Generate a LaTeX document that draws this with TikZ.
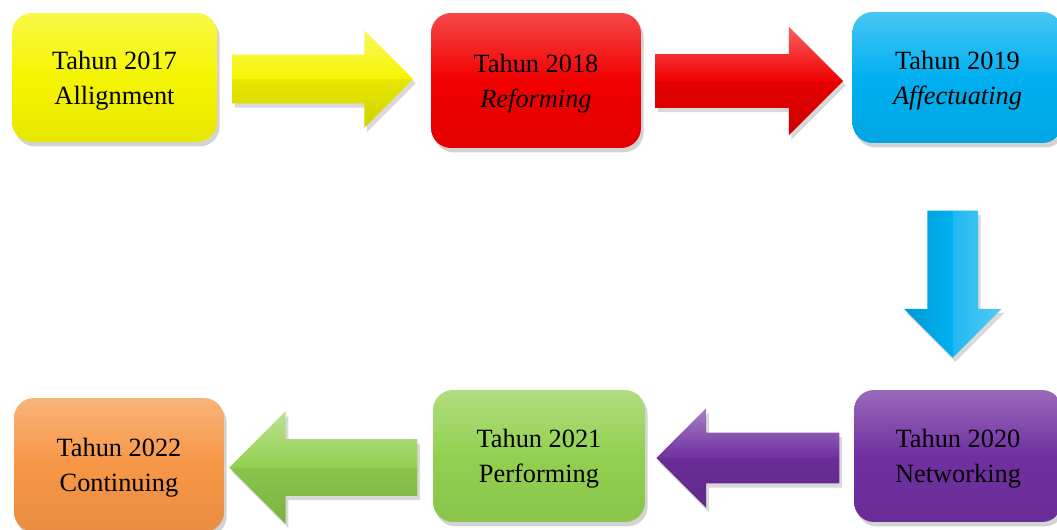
\documentclass[tikz,border=0pt]{standalone}
\usepackage{fontspec}
\setmainfont{Liberation Serif}
\usetikzlibrary{shapes.arrows,shadows,calc}
\definecolor{cyel}{HTML}{F5F500}
\definecolor{cred}{HTML}{F20000}
\definecolor{cblue}{HTML}{00B0F0}
\definecolor{cpurp}{HTML}{7030A0}
\definecolor{cgreen}{HTML}{92D050}
\definecolor{corange}{HTML}{F79646}
\newcommand\twolines[2]{\raisebox{-1.3pt}[\height][\depth]{\begin{tabular}{@{}c@{}}#1\\#2\end{tabular}}}
\tikzset{
  yearbox/.style={rounded corners=0.4cm, inner sep=0pt, align=center,
    font=\fontsize{15}{20}\selectfont,
    top color=#1!72!white, bottom color=#1!94!black, middle color=#1,
    drop shadow={opacity=0.35, shadow xshift=1.5pt, shadow yshift=-2.5pt}},
  barrow/.style={single arrow, draw=none,
    drop shadow={opacity=0.3, shadow xshift=1.5pt, shadow yshift=-2.5pt}},
  hbevel/.style={top color=#1!62!white, bottom color=#1!90!black, middle color=#1,
    path picture={\fill[black,opacity=0.05] (path picture bounding box.west) rectangle (path picture bounding box.south east);}},
  vbevel/.style={left color=#1!88!black, right color=#1!75!white, middle color=#1,
    path picture={\fill[white,opacity=0.12] (path picture bounding box.north) rectangle (path picture bounding box.south east);}}
}
\begin{document}
\begin{tikzpicture}[x=0.02cm,y=-0.02cm]
\useasboundingbox (0,0) rectangle (1057,530);
\node[yearbox=cyel, minimum width=4.1cm, minimum height=2.58cm] (b17) at (114.5,77.5) {\twolines{Tahun 2017}{Allignment}};
\node[yearbox=cred, minimum width=4.2cm, minimum height=2.7cm] (b18) at (536,80.5) {\twolines{Tahun 2018}{\textit{Reforming}}};
\node[yearbox=cblue, minimum width=4.2cm, minimum height=2.62cm] (b19) at (957.5,77.5) {\twolines{Tahun 2019}{\textit{Affectuating}}};
\node[yearbox=cpurp, minimum width=4.16cm, minimum height=2.64cm] (b20) at (958,456) {\twolines{Tahun 2020}{Networking}};
\node[yearbox=cgreen, minimum width=4.24cm, minimum height=2.64cm] (b21) at (539,456) {\twolines{Tahun 2021}{Performing}};
\node[yearbox=corange, minimum width=4.2cm, minimum height=2.68cm] (b22) at (119,465) {\twolines{Tahun 2022}{Continuing}};

\node[barrow, hbevel=cyel, inner sep=0.48cm, minimum height=3.62cm, minimum width=1.94cm, single arrow head extend=0.49cm]
  (a1) at ($(b17.east)!0.5!(b18.west)+(-13.5,0)$) {};
\node[barrow, hbevel=cred, inner sep=0.53cm, minimum height=3.76cm, minimum width=2.16cm, single arrow head extend=0.55cm]
  (a2) at ($(b18.east)!0.5!(b19.west)+(-11,2)$) {};
\node[barrow, vbevel=cblue, shape border rotate=270, inner sep=0.5cm, minimum height=2.94cm, minimum width=1.94cm, single arrow head extend=0.47cm]
  (a3) at ($(b19.south)!0.5!(b20.north)+(-5,5)$) {};
\node[barrow, hbevel=cpurp, shape border rotate=180, inner sep=0.5cm, minimum height=3.66cm, minimum width=1.98cm, single arrow head extend=0.49cm]
  (a4) at ($(b20.west)!0.5!(b21.east)+(11,2)$) {};
\node[barrow, hbevel=cgreen, shape border rotate=180, inner sep=0.56cm, minimum height=3.76cm, minimum width=2.24cm, single arrow head extend=0.56cm]
  (a5) at ($(b21.west)!0.5!(b22.east)+(9,7)$) {};
\end{tikzpicture}
\end{document}
